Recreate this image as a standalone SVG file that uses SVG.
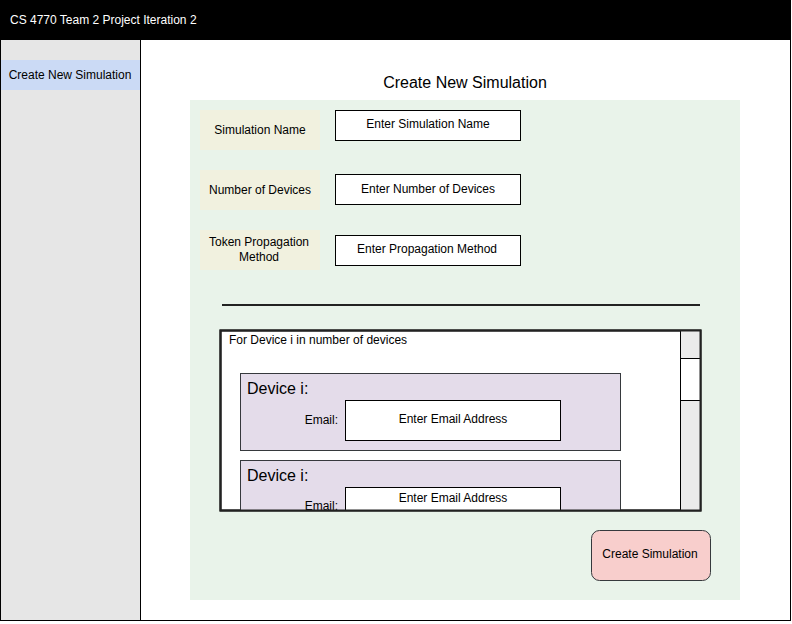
<svg xmlns="http://www.w3.org/2000/svg" width="792" height="624" viewBox="0 0 792 624">
<style>
text{font-family:"Liberation Sans",Arial,sans-serif;fill:#000}
.lbl{fill:#f1f1df}
.inp{fill:#fff;stroke:#000;stroke-width:1}
.dev{fill:#e4dcea;stroke:#36393d;stroke-width:1}
.t12{font-size:12px}
.t16{font-size:16px}
</style>
<defs>
<clipPath id="paneClip"><rect x="221" y="331" width="459" height="179"/></clipPath>
</defs>
<g id="frame">
<rect x="0.5" y="0.5" width="790" height="620" fill="#fff" stroke="#000" stroke-width="1"/>
<rect x="0" y="0" width="791" height="40" fill="#000"/>
<text x="10" y="24" class="t12" style="fill:#fff">CS 4770 Team 2 Project Iteration 2</text>
</g>
<g id="sidebar">
<rect x="1" y="40" width="139" height="580" fill="#e6e6e6"/>
<line x1="140.5" y1="40" x2="140.5" y2="620" stroke="#000" stroke-width="1"/>
<rect x="1" y="60" width="139" height="30" fill="#cbdaf5"/>
<text x="70" y="79" class="t12" text-anchor="middle">Create New Simulation</text>
</g>
<g id="title">
<text x="465" y="88" class="t16" text-anchor="middle">Create New Simulation</text>
</g>
<g id="form-panel">
<rect x="190" y="100" width="550" height="500" fill="#e9f3ea"/>
</g>
<g id="simulation-name">
<rect x="200" y="110" width="120" height="40" class="lbl"/>
<text x="260" y="134" class="t12" text-anchor="middle">Simulation Name</text>
<rect x="335.5" y="110.5" width="185" height="30" class="inp"/>
<text x="428" y="128" class="t12" text-anchor="middle">Enter Simulation Name</text>
</g>
<g id="number-of-devices">
<rect x="200" y="170" width="120" height="40" class="lbl"/>
<text x="260" y="194" class="t12" text-anchor="middle">Number of Devices</text>
<rect x="335.5" y="174.5" width="185" height="30" class="inp"/>
<text x="428" y="193" class="t12" text-anchor="middle">Enter Number of Devices</text>
</g>
<g id="token-propagation">
<rect x="200" y="230" width="120" height="40" class="lbl"/>
<text x="259" y="246" class="t12" text-anchor="middle">Token Propagation</text>
<text x="259" y="261" class="t12" text-anchor="middle">Method</text>
<rect x="335.5" y="235.5" width="185" height="30" class="inp"/>
<text x="427" y="253" class="t12" text-anchor="middle">Enter Propagation Method</text>
</g>
<g id="separator">
<line x1="222" y1="305" x2="700" y2="305" stroke="#222" stroke-width="2"/>
</g>
<g id="device-pane">
<rect x="220.5" y="330.5" width="480" height="180" fill="#fff" stroke="#000" stroke-width="2"/>
<text x="229" y="344" class="t12">For Device i in number of devices</text>
<g clip-path="url(#paneClip)">
<g id="device-1">
<rect x="240.5" y="373.5" width="380" height="77" class="dev"/>
<text x="247" y="394" class="t16">Device i:</text>
<text x="338" y="424" class="t12" text-anchor="end">Email:</text>
<rect x="345.5" y="400.5" width="215" height="40" class="inp"/>
<text x="453" y="423" class="t12" text-anchor="middle">Enter Email Address</text>
</g>
<g id="device-2">
<rect x="240.5" y="460.5" width="380" height="77" class="dev"/>
<text x="247" y="481" class="t16">Device i:</text>
<text x="338" y="510" class="t12" text-anchor="end">Email:</text>
<rect x="345.5" y="487.5" width="215" height="40" class="inp"/>
<text x="453" y="502" class="t12" text-anchor="middle">Enter Email Address</text>
</g>
</g>
<rect x="680.5" y="330.5" width="20" height="180" fill="#ebebeb" stroke="#000" stroke-width="1"/>
<rect x="680.5" y="358.5" width="20" height="42" fill="#fff" stroke="#000" stroke-width="1"/>
<rect x="220.5" y="330.5" width="480" height="180" fill="none" stroke="#222" stroke-width="2"/>
</g>
<g id="create-button">
<rect x="591.5" y="530.5" width="119" height="50" rx="8" ry="8" fill="#f8cecc" stroke="#36393d" stroke-width="1"/>
<text x="650" y="558" class="t12" text-anchor="middle">Create Simulation</text>
</g>
</svg>
